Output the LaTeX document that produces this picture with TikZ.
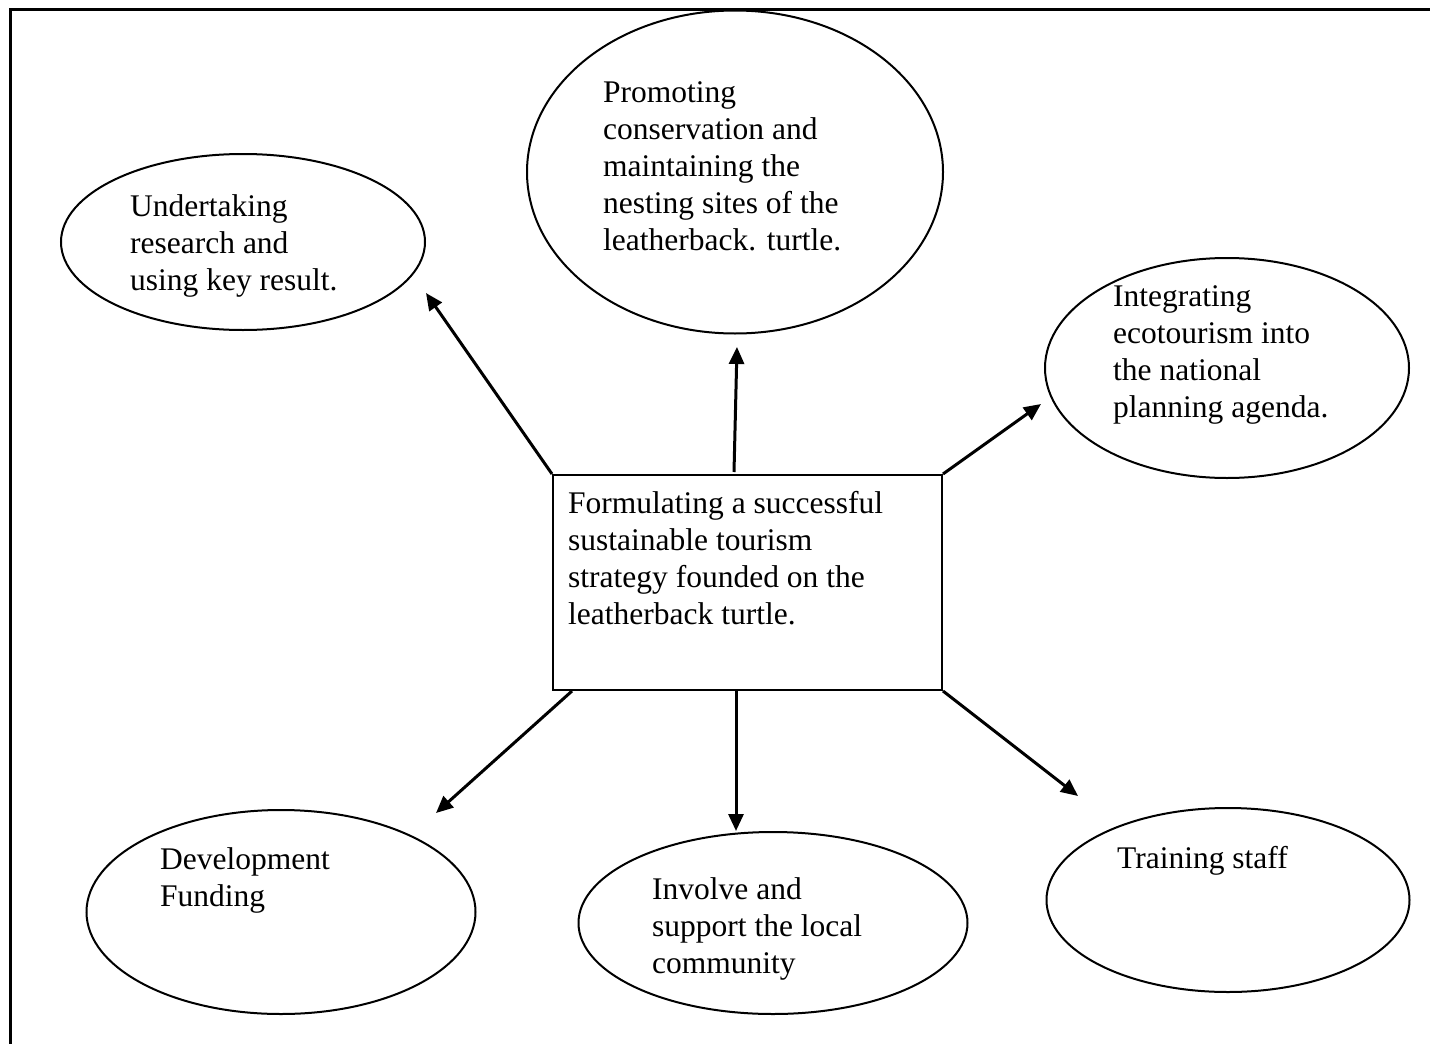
\documentclass[tikz,border=0pt]{standalone}
\usepackage{fontspec}
\setmainfont{Liberation Serif}
\usetikzlibrary{shapes.geometric,arrows.meta}
\tikzset{
  bubble/.style={draw,ellipse,line width=2pt,inner sep=0pt},
  centerbox/.style={draw,rectangle,line width=2pt,inner sep=0pt},
  label/.style={anchor=base west,inner sep=0pt,font=\fontsize{31.5}{37}\selectfont},
  conn/.style={line width=3pt,-{Triangle[length=17pt,width=15pt]}},
  frame/.style={line width=3pt}
}
\newcommand{\lines}[1]{\parbox[t]{12cm}{\raggedright #1}}
\begin{document}
\begin{tikzpicture}[x=1pt,y=-1pt]
\useasboundingbox (0,0) rectangle (1430,1044);
\fill[white] (0,0) rectangle (1430,1044);
% frame
\coordinate (fbl) at (10,1050);
\coordinate (ftl) at (10,9);
\coordinate (ftr) at (1440,9);
\draw[frame] (fbl) -- (ftl) -- (ftr);
% shapes
\node[bubble,minimum width=364pt,minimum height=176pt] (e1) at (243,242) {};
\node[bubble,minimum width=416pt,minimum height=323pt] (e2) at (735,172) {};
\node[bubble,minimum width=364pt,minimum height=220pt] (e3) at (1227,368) {};
\node[centerbox,minimum width=389pt,minimum height=215pt] (box) at (747.5,582.5) {};
\node[bubble,minimum width=389pt,minimum height=204pt] (e4) at (281,912) {};
\node[bubble,minimum width=389pt,minimum height=182pt] (e5) at (773,923) {};
\node[bubble,minimum width=363pt,minimum height=184pt] (e6) at (1228,900) {};
% texts
\node[label] (t1) at (130,216) {\lines{Undertaking\\research and\\using key result.}};
\node[label] (t2) at (603,102) {\lines{Promoting\\conservation and\\maintaining the\\nesting sites of the\\leatherback. turtle.}};
\node[label] (t3) at (1113,306) {\lines{Integrating\\ecotourism into\\the national\\planning agenda.}};
\node[label] (tb) at (568,513) {\lines{Formulating a successful\\sustainable tourism\\strategy founded on the\\leatherback turtle.}};
\node[label] (t4) at (160,869) {\lines{Development\\Funding}};
\node[label] (t5) at (652,899) {\lines{Involve and\\support the local\\community}};
\node[label] (t6) at (1117,868) {\lines{Training staff}};
% arrow ends
\coordinate (a1) at (426,293);
\coordinate (s2) at (734,472);
\coordinate (a2) at (737,347);
\coordinate (a3) at (1041,404);
\coordinate (s4) at (572,691);
\coordinate (a4) at (436,813);
\coordinate (s5) at (736,691);
\coordinate (a5) at (736,831);
\coordinate (a6) at (1078,796);
% connectors
\draw[conn] (box.north west) -- (a1);
\draw[conn] (s2) -- (a2);
\draw[conn] (box.north east) -- (a3);
\draw[conn] (s4) -- (a4);
\draw[conn] (s5) -- (a5);
\draw[conn] (box.south east) -- (a6);
\end{tikzpicture}
\end{document}
